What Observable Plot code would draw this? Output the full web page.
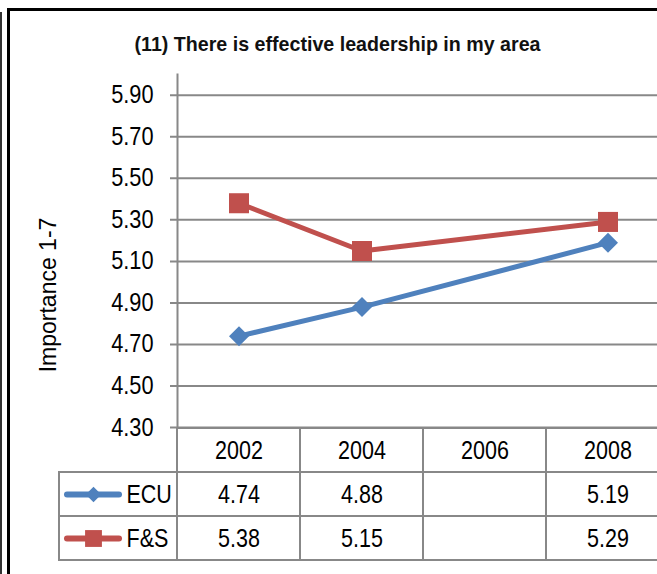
<!DOCTYPE html>
<html>
<head>
<meta charset="utf-8">
<script src="https://cdn.jsdelivr.net/npm/d3@7"></script>
<script src="https://cdn.jsdelivr.net/npm/@observablehq/plot@0.6"></script>
<style>
  html, body { margin: 0; padding: 0; background: #fff; }
  #wrap { position: relative; width: 657px; height: 574px; overflow: hidden; background: #fff; }
  #wrap svg { position: absolute; left: 0; }
  .bar { position: absolute; }
</style>
</head>
<body>
<div id="wrap">
  <div class="bar" style="left:7px;top:8px;width:650px;height:3px;background:#000"></div>
  <div class="bar" style="left:7px;top:8px;width:3px;height:566px;background:#000"></div>
  <div class="bar" style="left:0px;top:12px;width:2px;height:562px;background:#333"></div>
</div>
<script>
const title = "(11) There is effective leadership in my area";
const yLabel = "Importance 1-7";
const years = ["2002", "2004", "2006", "2008"];
const seriesNames = ["ECU", "F&S"];
const seriesColors = ["#4F81BD", "#C0504D"];
const ecuValues = [4.74, 4.88, null, 5.19];
const fsValues = [5.38, 5.15, null, 5.29];
const yTicks = [4.30, 4.50, 4.70, 4.90, 5.10, 5.30, 5.50, 5.70, 5.90];
const yDomain = [4.3, 6.0];

const sans = "'Liberation Sans', Arial, sans-serif";
const grid = "#888888";

const valuesBySeries = [ecuValues, fsValues];
const rows = [];
seriesNames.forEach((s, i) => years.forEach((yr, j) => {
  rows.push({series: s, year: yr, value: valuesBySeries[i][j], color: seriesColors[i]});
}));
const present = rows.filter(d => d.value != null);

const chart = Plot.plot({
  width: 657,
  height: 440,
  marginTop: 74,
  marginBottom: 13,
  marginLeft: 177,
  marginRight: 0,
  style: {background: "transparent", fontFamily: sans, overflow: "visible"},
  x: {type: "band", domain: years, range: [177, 669], padding: 0, axis: null},
  y: {domain: yDomain, axis: null},
  color: {domain: seriesNames, range: seriesColors},
  marks: [
    Plot.ruleY(yTicks, {stroke: grid, strokeWidth: 2, insetLeft: -7}),
    Plot.frame({anchor: "left", stroke: grid, strokeWidth: 2}),
    Plot.text(yTicks, {y: d => d, text: d => d.toFixed(2), frameAnchor: "left", dx: -24, textAnchor: "end", lineAnchor: "middle", fontSize: 25, fill: "#000"}),
    Plot.line(present, {x: "year", y: "value", z: "series", stroke: "series", strokeWidth: 5}),
    Plot.dot(present.filter(d => d.series === "ECU"), {x: "year", y: "value", symbol: "diamond2", r: 9, fill: "series", stroke: "none"}),
    Plot.dot(present.filter(d => d.series === "F&S"), {x: "year", y: "value", symbol: "square", r: 11.3, fill: "series", stroke: "none"}),
    Plot.text([title], {frameAnchor: "top-left", dx: 160, dy: -30, textAnchor: "middle", lineAnchor: "middle", fontSize: 21, fontWeight: "bold", fill: "#111"}),
    Plot.text([yLabel], {frameAnchor: "left", dx: -129, dy: 44, rotate: -90, textAnchor: "middle", lineAnchor: "middle", fontSize: 23, fill: "#000"})
  ]
});
chart.style.top = "0px";

const tableRows = ["header", ...seriesNames];
const cells = [];
years.forEach(yr => tableRows.forEach(r => cells.push({x: yr, y: r})));
const legendCells = seriesNames.map(s => ({x: "legend", y: s}));

const table = Plot.plot({
  width: 657,
  height: 147,
  margin: 0,
  style: {background: "transparent", fontFamily: sans, overflow: "visible"},
  x: {type: "band", domain: ["legend", ...years], range: [54, 669], padding: 0, axis: null},
  y: {type: "band", domain: tableRows, range: [1, 133], padding: 0, axis: null},
  color: {domain: seriesNames, range: seriesColors},
  marks: [
    Plot.cell(cells, {x: "x", y: "y", fill: "none", stroke: grid, strokeWidth: 2}),
    Plot.cell(legendCells, {x: "x", y: "y", fill: "none", stroke: grid, strokeWidth: 2, insetLeft: 5}),
    Plot.text(years, {x: d => d, y: () => "header", fontSize: 25, fill: "#000"}),
    Plot.text(present, {x: "year", y: "series", text: d => d.value.toFixed(2), fontSize: 25, fill: "#000"}),
    Plot.tickY(seriesNames, {x: () => "legend", y: d => d, stroke: d => d, strokeWidth: 6, strokeLinecap: "round", insetLeft: 13, insetRight: 58}),
    Plot.dot(["ECU"], {x: () => "legend", y: d => d, dx: -22.5, symbol: "diamond2", r: 7, fill: d => d, stroke: "none"}),
    Plot.dot(["F&S"], {x: () => "legend", y: d => d, dx: -22.5, symbol: "square", r: 9.5, fill: d => d, stroke: "none"}),
    Plot.text(seriesNames, {x: () => "legend", y: d => d, dx: 10.5, textAnchor: "start", fontSize: 25, fill: "#000"})
  ]
});
table.style.top = "427px";

const wrap = document.getElementById("wrap");
wrap.appendChild(chart);
wrap.appendChild(table);

// Emulate the condensed (Arial Narrow-like) face of the original chart text
function condense(svg, factorFor) {
  svg.querySelectorAll("text").forEach(t => {
    const factor = factorFor(t.textContent);
    if (factor === 1) return;
    const len = t.getComputedTextLength();
    if (len > 0) {
      t.setAttribute("textLength", (len * factor).toFixed(2));
      t.setAttribute("lengthAdjust", "spacingAndGlyphs");
    }
  });
}
condense(chart, s => s === yLabel ? 1 : s === title ? 0.935 : 0.87);
condense(table, () => 0.86);
</script>
</body>
</html>
